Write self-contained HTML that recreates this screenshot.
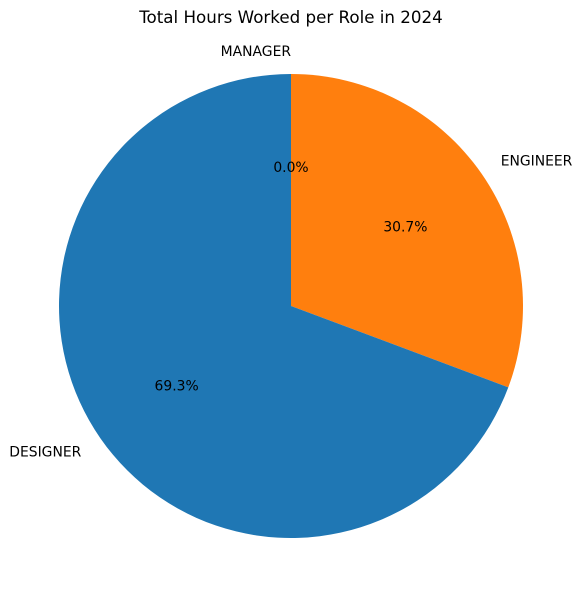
<!DOCTYPE html>
<html><head><meta charset="utf-8"><style>
body{margin:0;background:#fff;}
svg{display:block;font-family:"DejaVu Sans","Liberation Sans",sans-serif;}
</style></head><body>
<svg id="chart" width="582" height="590" viewBox="0 0 582 590">
<text x="291" y="23" text-anchor="middle" font-size="16.7" fill="#000">Total Hours Worked per Role in 2024</text>
</svg>
<script>
const categories = ["MANAGER", "ENGINEER", "DESIGNER"];
const values = [0, 30.7, 69.3];
const colors = ["#2ca02c", "#ff7f0e", "#1f77b4"];
const svg = document.getElementById('chart');
const NS = "http://www.w3.org/2000/svg";
const cx = 291, cy = 306, r = 232;
const total = values.reduce((a, b) => a + b, 0);
function pt(a, rr) { const t = a * Math.PI / 180; return [cx + rr * Math.cos(t), cy - rr * Math.sin(t)]; }
const mids = [];
let ang = 90;
categories.forEach((c, i) => {
  const sweep = values[i] / total * 360;
  const a0 = ang, a1 = ang - sweep;
  if (sweep > 0) {
    const p0 = pt(a0, r), p1 = pt(a1, r);
    const large = sweep > 180 ? 1 : 0;
    const path = document.createElementNS(NS, 'path');
    path.setAttribute('d', `M${cx},${cy} L${p0[0]},${p0[1]} A${r},${r} 0 ${large} 1 ${p1[0]},${p1[1]} Z`);
    path.setAttribute('fill', colors[i]);
    
    
    svg.appendChild(path);
  }
  mids.push((a0 + a1) / 2);
  ang = a1;
});
categories.forEach((c, i) => {
  const mid = mids[i];
  const lp = pt(mid, r * 1.1);
  const cosm = Math.cos(mid * Math.PI / 180);
  const lab = document.createElementNS(NS, 'text');
  lab.setAttribute('x', lp[0]); lab.setAttribute('y', lp[1] + 5);
  lab.setAttribute('font-size', '13.9');
  lab.setAttribute('text-anchor', cosm > 0.01 ? 'start' : 'end');
  lab.textContent = c;
  
  
  svg.appendChild(lab);
  const pp = pt(mid, r * 0.6);
  const pct = document.createElementNS(NS, 'text');
  pct.setAttribute('x', pp[0]); pct.setAttribute('y', pp[1] + 5);
  pct.setAttribute('font-size', '13.9');
  pct.setAttribute('text-anchor', 'middle');
  pct.textContent = (values[i] / total * 100).toFixed(1) + '%';
  
  
  svg.appendChild(pct);
});
</script>
</body></html>
